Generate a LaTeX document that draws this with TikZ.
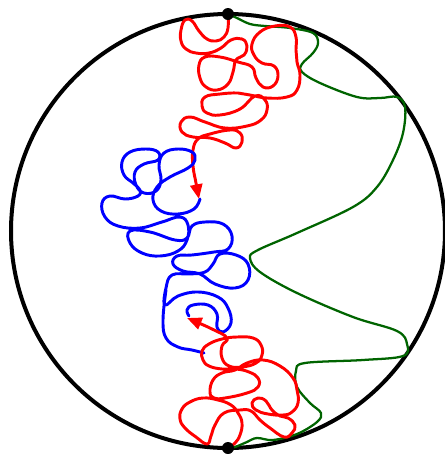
\documentclass[tikz,border=0pt]{standalone}
\usetikzlibrary{arrows.meta}
\definecolor{dgreen}{RGB}{0,100,0}
\begin{document}
\begin{tikzpicture}[x=0.75pt,y=-0.75pt,
  rim/.style={line width=3pt,black},
  dot/.style={circle,fill=black,inner sep=0pt,minimum size=9pt},
  gpath/.style={line width=1.7pt,dgreen,line join=round},
  rpath/.style={line width=2.2pt,red,line join=round,line cap=round},
  bpath/.style={line width=2.2pt,blue,line join=round,line cap=round},
  tip/.style={-{Triangle[length=11pt,width=9pt]}}]
\useasboundingbox (0,0) rectangle (444,454);
\draw[rim] (228,231) circle [radius=217];
% green curve
\draw[gpath] plot[smooth,tension=0.6] coordinates {(228,14) (237,18) (250,24) (265,26) (290,28) (313,33) (318,43) (313,53) (302,64) (302,72) (320,83) (357,97) (380,98) (397,97) (405,107) (403,133) (393,160) (377,187) (353,207) (297,233) (258,250) (250,258) (260,272) (297,293) (353,317) (397,331) (407,344) (403,356) (363,360) (305,363) (296,371) (297,387) (310,403) (321,413) (317,422) (297,434) (273,440) (257,438) (247,442) (235,447) (228,448)};
% red top
\draw[rpath,tip] plot[smooth,tension=0.75] coordinates {(228,15) (228,28) (224,37) (216,41) (207,39) (199,31) (192,21) (185,20) (181,30) (181,41) (186,49) (196,53) (209,53) (221,48) (231,40) (242,39) (247,46) (244,55) (236,60) (233,72) (228,84) (217,90) (206,87) (200,78) (199,65) (205,57) (220,57) (238,62) (252,67) (256,78) (263,87) (273,86) (278,76) (274,66) (262,63) (254,55) (252,44) (260,32) (275,26) (290,27) (296,37) (296,50) (297,62) (300,75) (297,90) (287,97) (267,98) (250,95) (238,93) (220,94) (205,97) (202,106) (207,113) (220,115) (240,109) (255,96) (265,100) (267,110) (261,120) (247,126) (225,128) (205,122) (190,117) (181,122) (182,132) (193,137) (210,138) (225,143) (236,148) (242,142) (240,133) (230,130) (210,134) (198,139) (193,150) (193,166) (196,183) (199,199)};
% blue
\draw[bpath] plot[smooth,tension=0.7] coordinates {(200,199) (194,209) (178,214) (161,211) (153,200) (157,187) (170,177) (188,168) (195,160) (192,152) (178,149) (164,153) (159,165) (161,180) (156,191) (144,193) (136,185) (135,172) (144,164) (158,160) (158,152) (146,149) (130,152) (122,162) (124,175) (133,183) (140,190) (138,196) (125,199) (110,196) (102,203) (105,217) (118,226) (140,228) (162,222) (180,217) (188,225) (187,240) (178,251) (160,256) (142,253) (130,243) (130,231) (150,232) (175,240) (187,238) (192,226) (205,222) (223,224) (232,236) (228,249) (214,252) (192,255) (177,256) (173,264) (183,271) (200,274) (215,284) (235,288) (248,280) (248,264) (236,255) (220,254) (213,264) (205,272) (190,274) (172,275) (166,288) (165,305) (178,296) (198,292) (218,297) (228,308) (231,323) (223,332) (217,327) (217,314) (208,305) (193,305) (187,310) (189,316)};
\draw[bpath] plot[smooth,tension=0.7] coordinates {(166,290) (163,320) (166,338) (178,347) (192,350) (204,353)};
% red bottom
\draw[rpath,tip] plot[smooth,tension=0.75] coordinates {(228,448) (235,443) (240,435) (242,423) (238,413) (231,405) (218,400) (203,398) (190,402) (182,409) (180,419) (185,428) (196,437) (207,444) (211,436) (215,425) (224,413) (240,410) (251,411) (260,420) (270,428) (284,437) (292,433) (295,425) (288,418) (280,416) (272,410) (266,401) (258,398) (252,403) (256,410) (268,414) (283,415) (292,412) (298,403) (297,390) (293,378) (280,366) (263,360) (247,363) (235,370) (222,373) (213,380) (210,392) (214,398) (225,398) (247,393) (258,387) (258,378) (249,372) (236,369) (222,369) (209,366) (203,360) (202,351) (209,344) (222,339) (237,337) (253,338) (261,345) (262,355) (256,363) (242,367) (229,366) (222,358) (222,346) (227,338) (212,329) (187,318)};
\node[dot] (top) at (228,14) {};
\node[dot] (bot) at (228,448) {};
\end{tikzpicture}
\end{document}
